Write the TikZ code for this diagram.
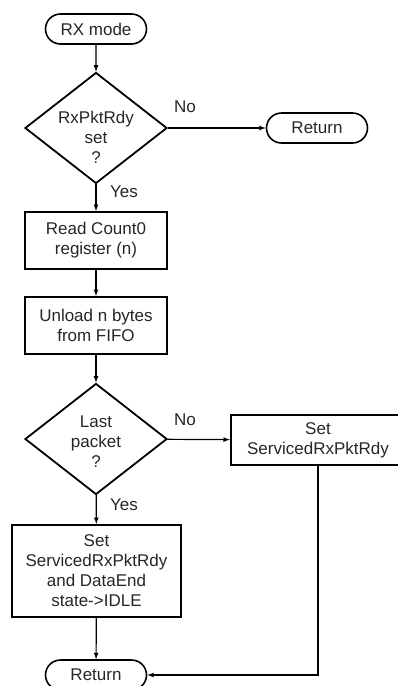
\documentclass[tikz,border=0pt]{standalone}
\usepackage{fontspec}
\setmainfont{Liberation Sans}
\usetikzlibrary{shapes.geometric,shapes.misc}
\begin{document}
\begin{tikzpicture}[x=1pt,y=-1pt,font=\fontsize{17}{20}\selectfont,text=black!85,term/.style={draw,rounded rectangle,line width=1.6pt,minimum width=101pt,minimum height=30pt,inner sep=0pt},proc/.style={draw,rectangle,line width=2.2pt,align=center,inner sep=0pt},dec/.style={draw,diamond,line width=1.8pt,minimum width=142pt,minimum height=111pt,inner sep=0pt},arr/.style={->,>=latex,line width=1.2pt},lab/.style={inner sep=0pt}]
\useasboundingbox (0,0) rectangle (398,686);
\node[term] (rx) at (96,29) {RX mode};
\node[dec,label={[align=center,yshift=-9pt]center:RxPktRdy\\set\\?}] (d1) at (96,128) {};
\node[term] (r1) at (317,128) {Return};
\node[proc,minimum width=142pt,minimum height=57pt] (b1) at (96,240.5) {Read Count0\\register (n)};
\node[proc,minimum width=142pt,minimum height=57pt] (b2) at (96,325.5) {Unload n bytes\\from FIFO};
\node[dec,label={[align=center,yshift=-3pt]center:Last\\packet\\?}] (d2) at (96,439) {};
\node[proc,minimum width=174pt,minimum height=50pt] (b3) at (318,440) {Set\\ServicedRxPktRdy};
\node[proc,minimum width=169pt,minimum height=92pt] (b4) at (96.5,571) {Set\\ServicedRxPktRdy\\and DataEnd\\state->IDLE};
\node[term] (r2) at (96,675) {Return};
\node[lab] (no1) at (185,107) {No};
\node[lab] (yes1) at (124,192) {Yes};
\node[lab] (no2) at (185,420) {No};
\node[lab] (yes2) at (124,505) {Yes};
\draw[arr] (rx) -- (d1);
\draw[arr] (d1) -- (r1);
\draw[arr] (d1) -- (b1);
\draw[arr] (b1) -- (b2);
\draw[arr] (b2) -- (d2);
\draw[arr] (d2) -- (b3);
\draw[arr] (d2) -- (b4);
\draw[arr] (b4) -- (r2);
\draw[arr] (b3.south) |- (r2.east);
\end{tikzpicture}
\end{document}
